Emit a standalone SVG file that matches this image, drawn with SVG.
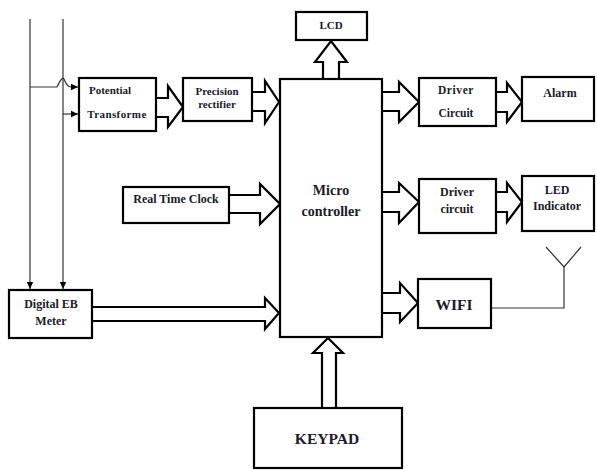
<svg xmlns="http://www.w3.org/2000/svg" width="597" height="470" viewBox="0 0 597 470">
<style>
.box{fill:#fff;stroke:#000;stroke-width:2.2}
.ba{fill:#fff;stroke:#000;stroke-width:2.2;stroke-linejoin:miter}
.thin{fill:none;stroke:#333;stroke-width:1.2}
text{font-family:"Liberation Serif","Times New Roman",serif;font-weight:bold;fill:#1a1a2a;text-anchor:middle}
.s{font-size:11px}
.d{font-size:11.5px}
.m{font-size:12px}
.l{font-size:14px}
.xl{font-size:15.5px}
</style>
<defs>
<marker id="ah" markerWidth="8" markerHeight="8" refX="7" refY="4" orient="auto" markerUnits="userSpaceOnUse">
<path d="M0,0.8 L7,4 L0,7.2 Z" fill="#000"/>
</marker>
</defs>
<rect width="597" height="470" fill="#fff"/>
<g id="connectors">
<path class="thin" d="M30,19 V289" marker-end="url(#ah)"/>
<path class="thin" d="M63,19 V289" marker-end="url(#ah)"/>
<path class="thin" d="M30,87 H57 Q62,76 64,79 Q67,87 71,87 H78" marker-end="url(#ah)"/>
<path class="thin" d="M63,114 H78" marker-end="url(#ah)"/>
<path class="ba" d="M156,98 H168 V86 L183,107 L168,127 V117 H156"/>
<path class="ba" d="M252,92 H265 V81 L279,102 L265,123 V111 H252"/>
<path class="ba" d="M323,79 V62 H315 L331,41 L347,62 H339 V79"/>
<path class="ba" d="M382,92 H399 V82 L419,102 L399,122 V111 H382"/>
<path class="ba" d="M496,92 H507 V83 L522,102 L507,122 V112 H496"/>
<path class="ba" d="M382,192 H399 V183 L419,202 L399,223 V212 H382"/>
<path class="ba" d="M496,192 H507 V183 L522,202 L507,222 V212 H496"/>
<path class="ba" d="M382,293 H400 V283 L418,303 L400,322 V313 H382"/>
<path class="ba" d="M229,195 H260 V184 L280,204 L260,224 V213 H229"/>
<path class="ba" d="M92,307 H265 V298 L279,313 L265,329 V321 H92"/>
<path class="ba" d="M322,408 V353 H313 L328,338 L343,353 H336 V408"/>
<path class="thin" d="M491,308 H564 V267 M546,247 L564,267 L581,247"/>
</g>
<g id="potential">
<rect class="box" x="79" y="78" width="77" height="53"/>
<text class="s" x="110" y="94">Potential</text>
<text class="s" x="117" y="118" letter-spacing="0.4">Transforme</text>
</g>
<g id="precision">
<rect class="box" x="183" y="78" width="69" height="43"/>
<text class="s" x="217" y="95">Precision</text>
<text class="s" x="217" y="108">rectifier</text>
</g>
<g id="micro">
<rect class="box" x="280" y="79" width="102" height="258"/>
<text class="l" x="331" y="195">Micro</text>
<text class="l" x="331" y="216">controller</text>
</g>
<g id="lcd">
<rect class="box" x="296" y="12" width="71" height="28"/>
<text class="s" x="331" y="29">LCD</text>
</g>
<g id="driver1">
<rect class="box" x="419" y="78" width="77" height="48"/>
<text class="d" x="456" y="94" letter-spacing="0.6">Driver</text>
<text class="d" x="456" y="117">Circuit</text>
</g>
<g id="alarm">
<rect class="box" x="522" y="77" width="72" height="44"/>
<text class="m" x="560" y="97">Alarm</text>
</g>
<g id="driver2">
<rect class="box" x="419" y="179" width="77" height="54"/>
<text class="m" x="457" y="196">Driver</text>
<text class="m" x="457" y="213">circuit</text>
</g>
<g id="led">
<rect class="box" x="522" y="176" width="72" height="55"/>
<text class="m" x="557" y="194">LED</text>
<text class="m" x="557" y="210">Indicator</text>
</g>
<g id="wifi">
<rect class="box" x="418" y="279" width="73" height="49"/>
<text class="xl" x="454" y="310">WIFI</text>
</g>
<g id="rtc">
<rect class="box" x="123" y="187" width="106" height="36"/>
<text class="m" x="176" y="203">Real Time Clock</text>
</g>
<g id="meter">
<rect class="box" x="9" y="290" width="83" height="48"/>
<text class="m" x="51" y="308">Digital EB</text>
<text class="m" x="51" y="325">Meter</text>
</g>
<g id="keypad">
<rect class="box" x="254" y="408" width="148" height="60"/>
<text class="xl" x="327" y="444">KEYPAD</text>
</g>
</svg>
